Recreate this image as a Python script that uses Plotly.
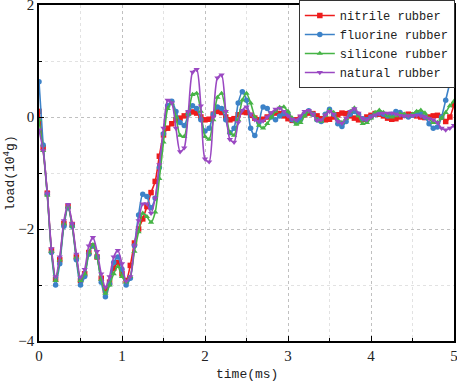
import plotly.graph_objects as go

times = [round(i * 0.05, 2) for i in range(101)]

nitrile = [0.1, -0.55, -1.36, -2.38, -2.9, -2.55, -1.9, -1.6, -1.92, -2.5,
           -2.92, -2.8, -2.42, -2.3, -2.5, -2.88, -3.1, -2.95, -2.7, -2.6,
           -2.8, -2.92, -2.65, -2.25, -2.0, -1.82, -1.6, -1.35, -1.15, -0.7,
           -0.32, -0.2, -0.12, -0.05, -0.02, 0.02, 0.07, 0.09, 0.07, 0.0,
           -0.05, -0.04, 0.05, 0.1, 0.08, 0.0, -0.05, -0.03, 0.04, 0.09,
           0.08, 0.03, -0.02, -0.05, -0.04, 0.0, 0.05, 0.07, 0.06, 0.02,
           -0.03, -0.06, -0.05, -0.01, 0.04, 0.07, 0.06, 0.02, -0.03, -0.05,
           -0.04, 0.0, 0.04, 0.07, 0.06, 0.02, -0.02, -0.05, -0.04, 0.0,
           0.03, 0.06, 0.05, 0.02, -0.02, -0.04, -0.03, 0.0, 0.03, 0.05,
           0.04, 0.02, 0.0, -0.01, 0.0, 0.02, 0.03, 0.0, -0.08, 0.0,
           0.22]

fluorine = [0.63, -0.5, -1.38, -2.42, -3.0, -2.62, -1.95, -1.62, -1.95, -2.55,
            -3.0, -2.85, -2.45, -2.3, -2.5, -2.95, -3.21, -2.98, -2.6, -2.5,
            -2.72, -3.0, -2.88, -2.3, -1.75, -1.38, -1.42, -1.62, -1.45, -0.9,
            -0.3, 0.2, 0.28, 0.1, -0.1, -0.15, 0.05, 0.2, 0.15, -0.05,
            -0.25, -0.2, 0.05, 0.18, 0.15, -0.05, -0.28, -0.2, 0.25, 0.45,
            0.3, -0.2, -0.33, -0.1, 0.18, 0.15, 0.0, -0.05, 0.02, 0.06,
            0.05, -0.05, -0.1, -0.05, 0.06, 0.11, 0.05, -0.05, -0.08, 0.05,
            0.14, 0.05, -0.12, -0.17, -0.08, 0.05, 0.1, 0.05, -0.03, -0.05,
            0.0, 0.05, 0.07, 0.05, 0.02, 0.05, 0.1, 0.08, 0.03, 0.0,
            0.03, 0.07, 0.06, 0.0, -0.12, -0.2, -0.18, 0.0, 0.3, 0.6,
            0.78]

silicone = [-0.05, -0.6, -1.4, -2.4, -2.92, -2.55, -1.9, -1.6, -1.95, -2.5,
            -2.92, -2.8, -2.42, -2.28, -2.5, -2.9, -3.15, -3.0, -2.8, -2.67,
            -2.85, -2.95, -2.85, -2.4, -2.05, -1.72, -1.78, -1.88, -1.7, -1.1,
            -0.45, 0.15, 0.25, 0.0, -0.33, -0.35, 0.05, 0.4, 0.42, 0.1,
            -0.35, -0.4, -0.05, 0.35, 0.42, 0.1, -0.28, -0.33, -0.05, 0.3,
            0.42, 0.25, 0.0, -0.15, -0.2, -0.12, 0.0, 0.1, 0.17, 0.18,
            0.1, -0.02, -0.13, -0.1, 0.02, 0.1, 0.05, -0.05, -0.08, 0.03,
            0.12, 0.08, -0.05, -0.1, -0.03, 0.1, 0.16, 0.02, -0.12, -0.1,
            -0.02, 0.08, 0.12, 0.08, 0.02, 0.0, 0.02, 0.06, 0.05, 0.02,
            0.05, 0.1, 0.12, 0.07, -0.03, -0.1, -0.1, -0.02, 0.08, 0.2,
            0.28]

natural = [-0.23, -0.6, -1.36, -2.35, -2.85, -2.5, -1.85, -1.56, -1.9, -2.45,
           -2.86, -2.72, -2.3, -2.15, -2.4, -2.8, -3.04, -2.85, -2.5, -2.38,
           -2.62, -2.93, -2.85, -2.3, -1.85, -1.55, -1.55, -1.72, -1.45, -0.85,
           -0.2, 0.3, 0.25, -0.2, -0.62, -0.55, 0.1, 0.8, 0.85, 0.2,
           -0.75, -0.8, 0.0, 0.7, 0.75, 0.1, -0.4, -0.45, -0.1, 0.12,
           0.18, 0.05, -0.05, -0.08, -0.07, 0.0, 0.08, 0.14, 0.16, 0.1,
           0.02, -0.04, -0.05, 0.02, 0.1, 0.12, 0.05, -0.06, -0.05, 0.04,
           0.1, 0.05, -0.08, -0.11, -0.02, 0.1, 0.15, 0.07, -0.03, -0.05,
           0.0, 0.04, 0.06, 0.07, 0.07, 0.07, 0.05, 0.03, 0.02, 0.02,
           0.03, 0.03, 0.02, 0.0, -0.03, -0.05, -0.1, -0.2, -0.23, -0.2,
           -0.15]

series = [
    ("nitrile rubber", nitrile, "#ee1c1c", "square"),
    ("fluorine rubber", fluorine, "#3c82c8", "circle"),
    ("silicone rubber", silicone, "#46b446", "triangle-up"),
    ("natural rubber", natural, "#9a48c2", "triangle-down"),
]

x_ticks = [0, 1, 2, 3, 4, 5]
y_ticks = [-4, -2, 0, 2]

fig = go.Figure()
for name, vals, color, sym in series:
    fig.add_trace(go.Scatter(
        x=times, y=vals, name=name, mode="lines+markers",
        line=dict(color=color, width=1.6, shape="spline", smoothing=0.7),
        marker=dict(symbol=sym, size=5.5, color=color),
    ))

mono = "Liberation Mono"
serif = "Liberation Serif"
txt = "#222222"

fig.update_layout(
    width=457, height=383,
    margin=dict(l=39, r=3, t=5, b=42, autoexpand=False),
    paper_bgcolor="white", plot_bgcolor="white",
    showlegend=True,
    legend=dict(
        x=1.002, xanchor="right", y=1.015, yanchor="top",
        bgcolor="white", bordercolor="#333333", borderwidth=1,
        font=dict(family=mono, size=12, color=txt),
        tracegroupgap=0, itemwidth=30,
    ),
    xaxis=dict(
        range=[0, 5], tickvals=x_ticks, ticks="inside", ticklen=5,
        tickcolor="black", showline=True, linecolor="black", linewidth=1.5,
        mirror=True, showgrid=True, gridcolor="#c0c0c0", griddash="dot",
        gridwidth=1, zeroline=False, automargin=False,
        ticklabeloverflow="allow",
        minor=dict(dtick=0.5, ticks="inside", ticklen=3, tickcolor="black",
                   showgrid=True, gridcolor="#e2e2e2", griddash="dot"),
        tickfont=dict(family=serif, size=15, color=txt),
    ),
    yaxis=dict(
        range=[-4, 2], tickvals=y_ticks, ticks="inside", ticklen=5,
        tickcolor="black", showline=True, linecolor="black", linewidth=1.5,
        mirror=True, showgrid=True, gridcolor="#c0c0c0", griddash="dot",
        gridwidth=1, zeroline=False, automargin=False,
        ticklabeloverflow="allow",
        minor=dict(dtick=1, ticks="inside", ticklen=3, tickcolor="black",
                   showgrid=True, gridcolor="#e2e2e2", griddash="dot"),
        tickfont=dict(family=serif, size=15, color=txt),
    ),
    annotations=[
        dict(text="time(ms)", xref="paper", yref="paper", x=0.5, y=-0.101,
             xanchor="center", yanchor="middle", showarrow=False,
             font=dict(family=mono, size=13, color=txt)),
        dict(text="load(10<sup>4</sup>g)", xref="paper", yref="paper",
             x=-0.0723, y=0.5, xanchor="center", yanchor="middle",
             textangle=-90, showarrow=False,
             font=dict(family=mono, size=13, color=txt)),
    ],
)

fig.write_html(
    "out.html",
    config={"displayModeBar": False},
    post_script="document.body.style.margin='0';document.body.style.overflow='hidden';",
)
